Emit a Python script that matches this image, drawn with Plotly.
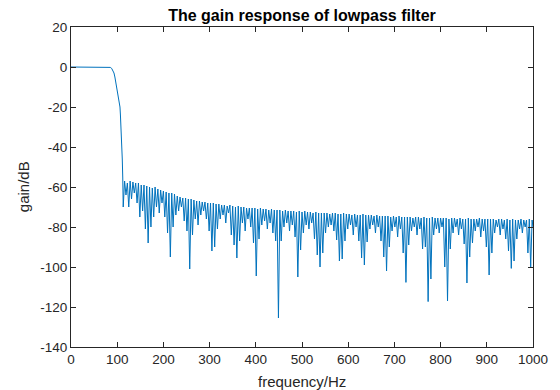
import plotly.graph_objects as go

# Passband and transition band
pass_freq_hz = [0, 20, 40, 60, 70, 80, 85, 88, 91, 93, 95, 97, 99, 101, 103, 105, 106, 107, 108, 109, 110, 111, 112]
pass_gain_db = [0, 0, 0, 0, 0, -0.05, -0.2, -0.7, -1.8, -3, -5, -7.5, -10.5, -13.5, -16, -18.5, -20, -24, -28, -33, -38, -46, -55]

# Stopband ripple minima (dips)
dip_freq_hz = [113, 119, 125, 131, 137, 143, 149, 155, 161, 167, 173, 179, 185, 191, 197, 203, 209, 215, 221, 227,
               233, 239, 245, 251, 257, 263, 269, 275, 281, 287, 293, 299, 305, 311, 317, 323, 329, 335, 341, 347,
               353, 359, 365, 371, 377, 383, 389, 395, 401, 407, 413, 419, 425, 431, 437, 443, 449, 455, 461, 467,
               473, 479, 485, 491, 497, 503, 509, 515, 521, 527, 533, 539, 545, 551, 557, 563, 569, 575, 581, 587,
               593, 599, 605, 611, 617, 623, 629, 635, 641, 647, 653, 659, 665, 671, 677, 683, 689, 695, 701, 707,
               713, 719, 725, 731, 737, 743, 749, 755, 761, 767, 773, 779, 785, 791, 797, 803, 809, 815, 821, 827,
               833, 839, 845, 851, 857, 863, 869, 875, 881, 887, 893, 899, 905, 911, 917, 923, 929, 935, 941, 947,
               953, 959, 965, 971, 977, 983, 989, 995]
dip_gain_db = [-70, -64, -70, -66, -63, -68, -75, -72, -81, -88, -80, -75, -70, -73, -68, -75, -83, -95, -80, -74,
               -72, -70, -77, -82, -101, -84, -76, -79, -74, -72, -76, -82, -92, -90, -81, -76, -74, -78, -73, -84,
               -89, -95.5, -87, -78, -82, -76, -80, -88, -104.5, -86, -79, -77, -81, -78, -83, -87, -125.5, -87, -80, -78,
               -82, -79, -85, -105, -91.5, -83, -79, -81, -78, -86, -94, -100, -93, -83, -80, -79, -82, -86.5, -97, -96,
               -87, -81, -79, -84, -80, -87, -95.5, -99, -87.5, -81, -79, -83, -80, -87, -95, -102, -90, -82, -80, -85,
               -81, -93, -107.7, -89, -82, -80, -84, -81, -91, -90, -117.3, -106, -84, -81, -83, -80, -100, -117, -91, -83,
               -80, -84, -81, -88.5, -108, -95, -88, -82, -80, -85, -82, -90, -104, -93, -83, -80, -84, -81, -86, -92,
               -100.7, -97, -86, -81, -83, -80, -93, -100]

# Stopband ripple maxima (peaks)
peak_freq_hz = [116, 122, 128, 134, 140, 146, 152, 158, 164, 170, 176, 182, 188, 194, 200, 206, 212, 218, 224, 230,
                236, 242, 248, 254, 260, 266, 272, 278, 284, 290, 296, 302, 308, 314, 320, 326, 332, 338, 344, 350,
                356, 362, 368, 374, 380, 386, 392, 398, 404, 410, 416, 422, 428, 434, 440, 446, 452, 458, 464, 470,
                476, 482, 488, 494, 500, 506, 512, 518, 524, 530, 536, 542, 548, 554, 560, 566, 572, 578, 584, 590,
                596, 602, 608, 614, 620, 626, 632, 638, 644, 650, 656, 662, 668, 674, 680, 686, 692, 698, 704, 710,
                716, 722, 728, 734, 740, 746, 752, 758, 764, 770, 776, 782, 788, 794, 800, 806, 812, 818, 824, 830,
                836, 842, 848, 854, 860, 866, 872, 878, 884, 890, 896, 902, 908, 914, 920, 926, 932, 938, 944, 950,
                956, 962, 968, 974, 980, 986, 992, 998, 1000]
peak_gain_db = [-57, -58, -57, -57.5, -58, -58, -59, -59, -59.5, -60, -60.5, -60, -61, -61.5, -62, -62.5, -63, -63, -63.5, -64.5,
                -65, -65.5, -65.5, -66, -66, -66.5, -67, -67, -67.5, -67.5, -68, -68, -68, -68.5, -68.5, -69, -69, -69.5, -69, -69.5,
                -70, -69.5, -70, -70, -70.5, -70.5, -70.5, -70.5, -71, -70.5, -71, -71, -71.5, -71, -71.5, -71.5, -71.5, -72, -71.5, -72,
                -72, -72, -72.5, -72, -72.5, -72, -72.5, -72.5, -73, -72.5, -73, -73, -73, -73, -73.5, -73, -73, -73.5, -73.5, -73,
                -73.5, -73.5, -74, -73.5, -74, -74, -73.5, -74, -74, -74, -74.5, -74, -74.5, -74.5, -74.5, -74.5, -75, -74.5, -75, -74.5,
                -75, -75, -75, -75, -75.5, -75, -75, -75.5, -75, -75.5, -75.5, -75, -75.5, -75.5, -75.5, -75.5, -75.5, -76, -75.5, -75.5,
                -76, -75.5, -76, -76, -75.5, -76, -76, -76, -75.5, -76, -76, -76, -76, -76, -76.5, -76, -76, -76.5, -76, -76.5,
                -76, -76.5, -76.5, -76, -76.5, -76.5, -76, -76.5, -80]

x_ticks = [0, 100, 200, 300, 400, 500, 600, 700, 800, 900, 1000]
y_ticks = [20, 0, -20, -40, -60, -80, -100, -120, -140]

# Build one ordered series from the read values
points = list(zip(pass_freq_hz, pass_gain_db)) + list(zip(dip_freq_hz, dip_gain_db)) + list(zip(peak_freq_hz, peak_gain_db))
points.sort(key=lambda p: p[0])
freq = [p[0] for p in points]
gain = [p[1] for p in points]

axis_color = "#262626"
font_family = "Liberation Sans, Arial, Helvetica, sans-serif"

fig = go.Figure()
fig.add_trace(go.Scatter(x=freq, y=gain, mode="lines",
                         line=dict(color="#0072BD", width=1), hoverinfo="skip", showlegend=False))

common_axis = dict(showgrid=False, zeroline=False, showline=True, linecolor=axis_color, linewidth=1,
                   mirror="ticks", ticks="inside", ticklen=5, tickcolor=axis_color, tickwidth=1,
                   tickfont=dict(family=font_family, size=13.5, color=axis_color))

fig.update_layout(
    width=560, height=390,
    margin=dict(l=71, r=25, t=27, b=43),
    paper_bgcolor="white", plot_bgcolor="white",
    font=dict(family=font_family, color=axis_color),
    xaxis=dict(range=[0, 1000], tickvals=x_ticks, ticktext=[str(v) for v in x_ticks], **common_axis),
    yaxis=dict(range=[-140, 20], tickvals=y_ticks, ticktext=[str(v) for v in y_ticks], **common_axis),
    title=dict(text="<b>The gain response of lowpass filter</b>", x=0.5, xref="paper", xanchor="center",
               y=1 - 15.5 / 390, yanchor="middle", font=dict(family=font_family, size=16, color="#000000")),
    annotations=[
        dict(text="frequency/Hz", xref="paper", yref="paper", x=0.5, y=-34 / 320, xanchor="center", yanchor="middle",
             showarrow=False, font=dict(family=font_family, size=15, color=axis_color)),
        dict(text="gain/dB", xref="paper", yref="paper", x=(23 - 71) / 464, y=0.5, xanchor="center", yanchor="middle",
             textangle=-90, showarrow=False, font=dict(family=font_family, size=15, color=axis_color)),
    ],
)

fig.write_html("out.html")
